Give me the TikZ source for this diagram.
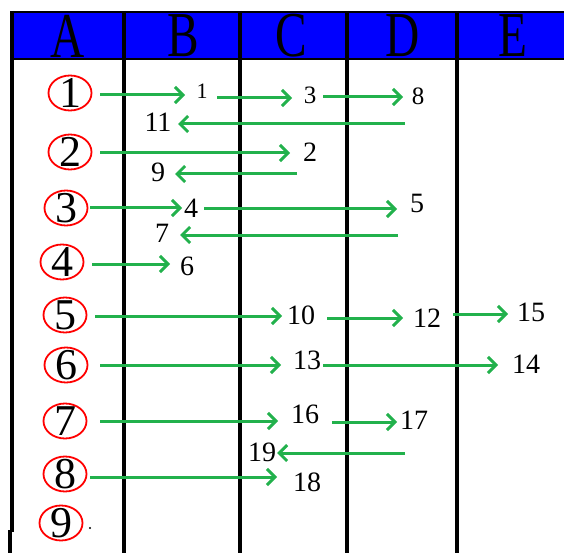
\documentclass[tikz,border=0pt]{standalone}
\usepackage{fontspec}
\setmainfont{Liberation Serif}
\usetikzlibrary{arrows.meta,shapes.geometric}
\definecolor{hdrblue}{RGB}{0,0,255}
\definecolor{arrgreen}{RGB}{34,177,76}
\begin{document}
\begin{tikzpicture}[x=1pt,y=-1pt,
  grid/.style={line width=3.5pt,black},
  hdr/.style={inner sep=0pt,font=\fontsize{64}{64}\selectfont},
  ring/.style={ellipse,draw=red,line width=1.8pt,minimum width=43pt,minimum height=35pt,inner sep=0pt},
  cdig/.style={inner sep=0pt,font=\fontsize{44}{44}\selectfont},
  lab/.style={inner sep=0pt,font=\fontsize{28}{28}\selectfont},
  labs/.style={inner sep=0pt,font=\fontsize{25}{25}\selectfont},
  arr/.style={draw=arrgreen,line width=3pt,-{Straight Barb[length=8pt,width=16pt,line width=3pt]}}
]
\useasboundingbox (0,0) rectangle (564,553);
% header band
\fill[hdrblue] (12,12) rectangle (564,59);
\draw[line width=2pt] (11,12) -- (564,12);
\draw[line width=1.8pt] (11,59) -- (564,59);
% column lines
\draw[grid] (12,11) -- (12,532);
\draw[grid] (10,530) -- (10,553);
\draw[grid] (124,11) -- (124,553);
\draw[grid] (240,11) -- (240,553);
\draw[grid] (347,11) -- (347,553);
\draw[grid] (457,11) -- (457,553);
% header letters
\node[hdr] (hA) at (68,36) {\scalebox{0.74}[1]{A}};
\node[hdr] (hB) at (183,36) {\scalebox{0.74}[1]{B}};
\node[hdr] (hC) at (291,36) {\scalebox{0.74}[1]{C}};
\node[hdr] (hD) at (403,36) {\scalebox{0.74}[1]{D}};
\node[hdr] (hE) at (513,36) {\scalebox{0.74}[1]{E}};
% circled numbers
\foreach \n/\x/\y in {1/70/93,2/70/152,3/66/208,4/62/262,5/65/315,6/66/365,7/65/421,8/65/474,9/61/523}{
  \node[ring] (c\n) at (\x,\y) {};
  \node[cdig] (cd\n) at (c\n) {\n};
}
\fill (90,528) circle (1.1);
% number labels
\node[inner sep=0pt,font=\fontsize{22}{22}\selectfont] (n1) at (202,91) {1};
\node[labs] (n3) at (310,95) {3};
\node[labs] (n8) at (418,96) {8};
\node[lab] (n11) at (158,122) {11};
\node[lab] (n2) at (310,152) {2};
\node[lab] (n9) at (158,172) {9};
\node[lab] (n4) at (191,208) {4};
\node[lab] (n5) at (417,203) {5};
\node[lab] (n7) at (162,233) {7};
\node[lab] (n6) at (187,266) {6};
\node[lab] (n10) at (301,315) {10};
\node[lab] (n12) at (427,318) {12};
\node[lab] (n15) at (531,312) {15};
\node[lab] (n13) at (307,360) {13};
\node[lab] (n14) at (526,364) {14};
\node[lab] (n16) at (305,414) {16};
\node[lab] (n17) at (414,420) {17};
\node[lab] (n19) at (262,452) {19};
\node[lab] (n18) at (307,482) {18};
% free ends of the backward arrows
\coordinate (d0) at (405,124);
\coordinate (f0) at (297,174);
\coordinate (i0) at (398,235);
\coordinate (r0) at (405,453);
% arrows
\draw[arr] ([shift={(30,2)}]c1.center) -- ([shift={(-17,4)}]n1.center);
\draw[arr] ([shift={(15,7)}]n1.center) -- ([shift={(-18,3)}]n3.center);
\draw[arr] ([shift={(13,2)}]n3.center) -- ([shift={(-15,1)}]n8.center);
\draw[arr] (d0) -- ([shift={(20,2)}]n11.center);
\draw[arr] ([shift={(30,1)}]c2.center) -- ([shift={(-20,1)}]n2.center);
\draw[arr] (f0) -- ([shift={(17,2)}]n9.center);
\draw[arr] ([shift={(24,0)}]c3.center) -- ([shift={(-9,0)}]n4.center);
\draw[arr] ([shift={(13,1)}]n4.center) -- ([shift={(-20,6)}]n5.center);
\draw[arr] (i0) -- ([shift={(18,2)}]n7.center);
\draw[arr] ([shift={(30,2)}]c4.center) -- ([shift={(-17,-2)}]n6.center);
\draw[arr] ([shift={(30,1)}]c5.center) -- ([shift={(-19,1)}]n10.center);
\draw[arr] ([shift={(26,3)}]n10.center) -- ([shift={(-24,0)}]n12.center);
\draw[arr] ([shift={(26,-4)}]n12.center) -- ([shift={(-23,2)}]n15.center);
\draw[arr] ([shift={(34,0)}]c6.center) -- ([shift={(-26,5)}]n13.center);
\draw[arr] ([shift={(16,5)}]n13.center) -- ([shift={(-28,1)}]n14.center);
\draw[arr] ([shift={(35,0)}]c7.center) -- ([shift={(-27,7)}]n16.center);
\draw[arr] ([shift={(27,8)}]n16.center) -- ([shift={(-17,2)}]n17.center);
\draw[arr] (r0) -- ([shift={(15,1)}]n19.center);
\draw[arr] ([shift={(25,3)}]c8.center) -- ([shift={(-30,-5)}]n18.center);
\end{tikzpicture}
\end{document}
